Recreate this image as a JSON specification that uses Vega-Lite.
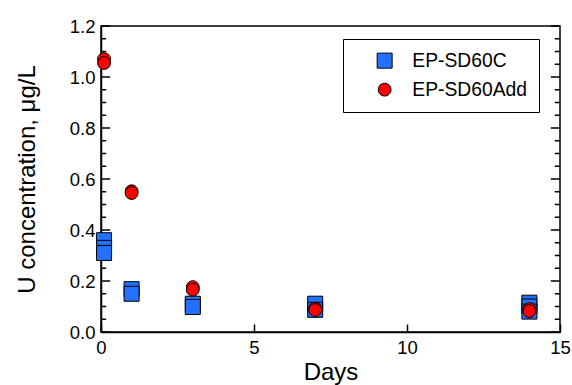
{
  "$schema": "https://vega.github.io/schema/vega-lite/v6.json",
  "width": 459,
  "height": 306,
  "autosize": {"type": "none"},
  "padding": {"left": 101, "top": 26, "right": 12, "bottom": 53},
  "background": "white",
  "config": {
    "view": {"stroke": "black", "strokeWidth": 1.5},
    "font": "Liberation Sans",
    "axis": {
      "grid": false,
      "domainColor": "black",
      "domainWidth": 1.5,
      "tickColor": "black",
      "tickWidth": 1.5,
      "labelColor": "black",
      "titleColor": "black",
      "labelFont": "Liberation Sans",
      "titleFont": "Liberation Sans",
      "labelFontSize": 18.5,
      "titleFontWeight": "normal"
    },
    "legend": {
      "labelFont": "Liberation Sans",
      "labelFontSize": 19.3,
      "labelColor": "black"
    }
  },
  "datasets": {
    "yticks": [
      {"v": 0.0, "kind": "major"}, {"v": 0.2, "kind": "major"}, {"v": 0.4, "kind": "major"},
      {"v": 0.6, "kind": "major"}, {"v": 0.8, "kind": "major"}, {"v": 1.0, "kind": "major"},
      {"v": 1.2, "kind": "major"},
      {"v": 0.05, "kind": "minor"}, {"v": 0.1, "kind": "minor"}, {"v": 0.15, "kind": "minor"},
      {"v": 0.25, "kind": "minor"}, {"v": 0.3, "kind": "minor"}, {"v": 0.35, "kind": "minor"},
      {"v": 0.45, "kind": "minor"}, {"v": 0.5, "kind": "minor"}, {"v": 0.55, "kind": "minor"},
      {"v": 0.65, "kind": "minor"}, {"v": 0.7, "kind": "minor"}, {"v": 0.75, "kind": "minor"},
      {"v": 0.85, "kind": "minor"}, {"v": 0.9, "kind": "minor"}, {"v": 0.95, "kind": "minor"},
      {"v": 1.05, "kind": "minor"}, {"v": 1.1, "kind": "minor"}, {"v": 1.15, "kind": "minor"}
    ]
  },
  "data": {
    "values": [
      {"series": "EP-SD60C", "day": 0.1, "conc": 0.36},
      {"series": "EP-SD60C", "day": 0.1, "conc": 0.33},
      {"series": "EP-SD60C", "day": 0.1, "conc": 0.31},
      {"series": "EP-SD60C", "day": 1, "conc": 0.168},
      {"series": "EP-SD60C", "day": 1, "conc": 0.15},
      {"series": "EP-SD60C", "day": 3, "conc": 0.111},
      {"series": "EP-SD60C", "day": 3, "conc": 0.098},
      {"series": "EP-SD60C", "day": 7, "conc": 0.111},
      {"series": "EP-SD60C", "day": 7, "conc": 0.087},
      {"series": "EP-SD60C", "day": 14, "conc": 0.115},
      {"series": "EP-SD60C", "day": 14, "conc": 0.1},
      {"series": "EP-SD60C", "day": 14, "conc": 0.08},
      {"series": "EP-SD60Add", "day": 0.1, "conc": 1.07},
      {"series": "EP-SD60Add", "day": 0.1, "conc": 1.055},
      {"series": "EP-SD60Add", "day": 1, "conc": 0.552},
      {"series": "EP-SD60Add", "day": 1, "conc": 0.545},
      {"series": "EP-SD60Add", "day": 3, "conc": 0.176},
      {"series": "EP-SD60Add", "day": 3, "conc": 0.166},
      {"series": "EP-SD60Add", "day": 7, "conc": 0.092},
      {"series": "EP-SD60Add", "day": 7, "conc": 0.086},
      {"series": "EP-SD60Add", "day": 14, "conc": 0.09},
      {"series": "EP-SD60Add", "day": 14, "conc": 0.082}
    ]
  },
  "layer": [
    {
      "data": {"name": "yticks"},
      "transform": [{"filter": "datum.kind === 'major'"}],
      "mark": {"type": "rule", "color": "black", "strokeWidth": 1.5},
      "encoding": {
        "y": {"field": "v", "type": "quantitative", "axis": null},
        "x": {"datum": 0, "type": "quantitative", "axis": null},
        "x2": {"datum": 0.3}
      }
    },
    {
      "data": {"name": "yticks"},
      "transform": [{"filter": "datum.kind === 'minor'"}],
      "mark": {"type": "rule", "color": "black", "strokeWidth": 1.5},
      "encoding": {
        "y": {"field": "v", "type": "quantitative", "axis": null},
        "x": {"datum": 0, "type": "quantitative", "axis": null},
        "x2": {"datum": 0.17}
      }
    },
    {
      "data": {"name": "yticks"},
      "transform": [{"filter": "datum.kind === 'major'"}],
      "mark": {"type": "rule", "color": "black", "strokeWidth": 1.5},
      "encoding": {
        "y": {"field": "v", "type": "quantitative", "axis": null},
        "x": {"datum": 14.7, "type": "quantitative", "axis": null},
        "x2": {"datum": 15}
      }
    },
    {
      "data": {"name": "yticks"},
      "transform": [{"filter": "datum.kind === 'minor'"}],
      "mark": {"type": "rule", "color": "black", "strokeWidth": 1.5},
      "encoding": {
        "y": {"field": "v", "type": "quantitative", "axis": null},
        "x": {"datum": 14.83, "type": "quantitative", "axis": null},
        "x2": {"datum": 15}
      }
    },
    {
      "mark": {"type": "point", "opacity": 0},
      "encoding": {
        "x": {"field": "day", "type": "quantitative", "axis": {"orient": "top", "offset": -306, "values": [0, 5, 10, 15], "tickSize": 8, "labels": false, "domain": false, "title": null}},
        "y": {"field": "conc", "type": "quantitative", "axis": null}
      }
    },
    {
      "mark": {"type": "point", "filled": true, "stroke": "black", "strokeWidth": 1, "opacity": 1},
      "encoding": {
        "x": {
          "field": "day", "type": "quantitative",
          "scale": {"domain": [0, 15], "nice": false, "zero": false},
          "axis": {"orient": "bottom", "values": [0, 5, 10, 15], "ticks": false, "labelPadding": 6, "title": "Days", "titleFontSize": 24, "titlePadding": 4, "labelFlush": false}
        },
        "y": {
          "field": "conc", "type": "quantitative",
          "scale": {"domain": [0, 1.2], "nice": false},
          "axis": {"orient": "left", "values": [0, 0.2, 0.4, 0.6, 0.8, 1.0, 1.2], "format": ".1f", "ticks": false, "labelPadding": 6, "title": "U concentration, μg/L", "titleFontSize": 24, "titlePadding": 30, "labelFlush": false}
        },
        "color": {
          "field": "series", "type": "nominal",
          "scale": {"domain": ["EP-SD60C", "EP-SD60Add"], "range": ["#2371ff", "#ff0000"]},
          "legend": {
            "title": null, "orient": "none", "legendX": 242, "legendY": 13,
            "strokeColor": "black", "padding": 12, "rowPadding": 9,
            "symbolOffset": 20, "labelOffset": 18, "symbolSize": 200, "symbolStrokeColor": "black", "symbolStrokeWidth": 1
          }
        },
        "shape": {
          "field": "series", "type": "nominal",
          "scale": {"domain": ["EP-SD60C", "EP-SD60Add"], "range": ["square", "circle"]}
        },
        "size": {
          "field": "series", "type": "nominal",
          "scale": {"domain": ["EP-SD60C", "EP-SD60Add"], "range": [225, 165]},
          "legend": null
        }
      }
    }
  ],
  "resolve": {"axis": {"x": "independent", "y": "independent"}}
}
